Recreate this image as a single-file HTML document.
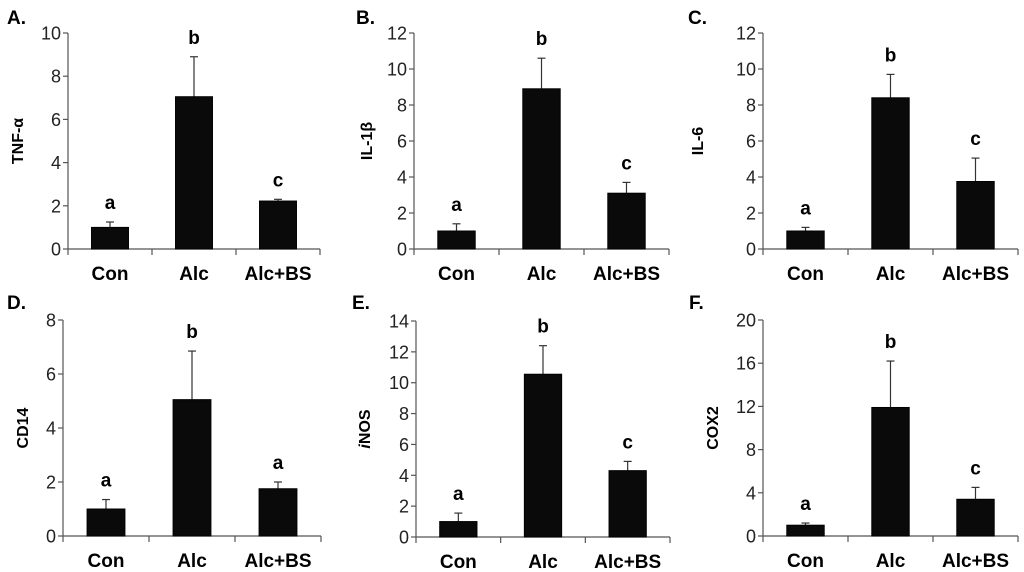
<!DOCTYPE html>
<html><head><meta charset="utf-8"><style>
html,body{margin:0;padding:0;background:#fff;}
svg{display:block;font-family:"Liberation Sans",Arial,sans-serif;}
</style></head><body>
<svg id="fig" width="1024" height="572" viewBox="0 0 1024 572"></svg>
<script>
const categories = ["Con","Alc","Alc+BS"];
const valuesA = [1.0, 7.05, 2.22];
const errTopA = [1.25, 8.9, 2.3];
const lettersA = ["a","b","c"];
const valuesB = [1.0, 8.9, 3.1];
const errTopB = [1.4, 10.6, 3.7];
const lettersB = ["a","b","c"];
const valuesC = [1.0, 8.4, 3.75];
const errTopC = [1.2, 9.7, 5.05];
const lettersC = ["a","b","c"];
const valuesD = [1.0, 5.05, 1.75];
const errTopD = [1.35, 6.85, 2.0];
const lettersD = ["a","b","a"];
const valuesE = [1.0, 10.55, 4.3];
const errTopE = [1.55, 12.4, 4.9];
const lettersE = ["a","b","c"];
const valuesF = [1.0, 11.9, 3.4];
const errTopF = [1.2, 16.2, 4.5];
const lettersF = ["a","b","c"];
const ticksA = [0,2,4,6,8,10];
const ticksB = [0,2,4,6,8,10,12];
const ticksC = [0,2,4,6,8,10,12];
const ticksD = [0,2,4,6,8];
const ticksE = [0,2,4,6,8,10,12,14];
const ticksF = [0,4,8,12,16,20];

const NS = "http://www.w3.org/2000/svg";
const svg = document.getElementById("fig");
function mk(tag, attrs, parent){
  const e = document.createElementNS(NS, tag);
  for (const k in attrs) e.setAttribute(k, attrs[k]);
  (parent||svg).appendChild(e);
  return e;
}
function panel(p){
  const g = mk("g", {});
  
  
  const max = p.ticks[p.ticks.length-1];
  const y = v => p.bottom - (v/max)*(p.bottom - p.top);
  const cw = (p.x1 - p.x0)/categories.length;
  const xc = i => p.x0 + cw*(i+0.5);
  const pl = mk("text", {x:p.lx, y:p.ly, "font-size":19, "font-weight":"bold", fill:"#000"}, g);
  pl.textContent = p.id + ".";
  
  
  const cy = (p.top + p.bottom)/2;
  const yt = mk("text", {x:p.tx, y:cy, "font-size":16, "font-weight":"bold", "text-anchor":"middle", transform:`rotate(-90 ${p.tx} ${cy})`, "dominant-baseline":"middle"}, g);
  yt.innerHTML = p.title;
  
  
  const ya = mk("line", {x1:p.x0, y1:p.top, x2:p.x0, y2:p.bottom, stroke:"#555", "stroke-width":1.2}, g);
  
  
  const xa = mk("line", {x1:p.x0, y1:p.bottom, x2:p.x1, y2:p.bottom, stroke:"#555", "stroke-width":1.2}, g);
  
  
  p.ticks.forEach(t => {
    mk("line", {x1:p.x0-5, y1:y(t), x2:p.x0, y2:y(t), stroke:"#555", "stroke-width":1.2}, g);
    const tl = mk("text", {x:p.x0-7, y:y(t)+6.5, "font-size":18, "text-anchor":"end", fill:"#222"}, g);
    tl.textContent = t;
    
    
  });
  for (let i=0;i<=categories.length;i++){
    mk("line", {x1:p.x0+cw*i, y1:p.bottom, x2:p.x0+cw*i, y2:p.bottom+6, stroke:"#555", "stroke-width":1.2}, g);
  }
  const bw = cw*0.44;
  p.values.forEach((v,i) => {
    const eb = mk("line", {x1:xc(i), y1:y(p.err[i]), x2:xc(i), y2:y(v), stroke:"#333", "stroke-width":1.2}, g);
    
    
    mk("line", {x1:xc(i)-4, y1:y(p.err[i]), x2:xc(i)+4, y2:y(p.err[i]), stroke:"#333", "stroke-width":1.2}, g);
    const r = mk("rect", {x:xc(i)-bw/2, y:y(v), width:bw, height:p.bottom-y(v), fill:"#0a0a0a", stroke:"#000"}, g);
    
    
    const lt = mk("text", {x:xc(i), y:Math.max(y(p.err[i]) - 13, p.top + 10), "font-size":19, "font-weight":"bold", "text-anchor":"middle"}, g);
    lt.textContent = p.letters[i];
    
    
    const cl = mk("text", {x:xc(i), y:p.bottom+31, "font-size":19, "font-weight":"bold", "text-anchor":"middle"}, g);
    cl.textContent = categories[i];
    
    
  });
}
panel({id:"A", title:"TNF-α", values:valuesA, err:errTopA, letters:lettersA, ticks:ticksA, x0:68, x1:320, top:33, bottom:249, lx:7, ly:24, tx:19});
panel({id:"B", title:"IL-1β", values:valuesB, err:errTopB, letters:lettersB, ticks:ticksB, x0:414, x1:669, top:33, bottom:249, lx:356, ly:24, tx:368});
panel({id:"C", title:"IL-6", values:valuesC, err:errTopC, letters:lettersC, ticks:ticksC, x0:763, x1:1018, top:33, bottom:249, lx:688, ly:24, tx:699});
panel({id:"D", title:"CD14", values:valuesD, err:errTopD, letters:lettersD, ticks:ticksD, x0:63, x1:321, top:320, bottom:536, lx:7, ly:309, tx:24});
panel({id:"E", title:"<tspan font-style=\"italic\">i</tspan>NOS", values:valuesE, err:errTopE, letters:lettersE, ticks:ticksE, x0:416, x1:670, top:321, bottom:537, lx:352, ly:309, tx:366});
panel({id:"F", title:"COX2", values:valuesF, err:errTopF, letters:lettersF, ticks:ticksF, x0:763, x1:1018, top:320, bottom:536, lx:689, ly:309, tx:714});
</script>
</body></html>
